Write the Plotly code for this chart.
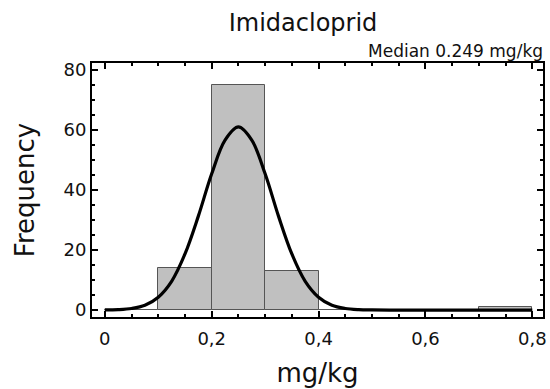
import plotly.graph_objects as go

# Histogram bins (mg/kg) and counts
bin_left = [0.0, 0.1, 0.2, 0.3, 0.4, 0.5, 0.6, 0.7]
bin_width = 0.1
counts = [0, 14, 75, 13, 0, 0, 0, 1]

# Fitted curve
curve_x = [0.0, 0.025, 0.05, 0.075, 0.1, 0.125, 0.15, 0.175, 0.2, 0.225, 0.25,
           0.275, 0.3, 0.325, 0.35, 0.375, 0.4, 0.425, 0.45, 0.475, 0.5,
           0.55, 0.6, 0.65, 0.7, 0.75, 0.8]
curve_y = [0.04, 0.15, 0.54, 1.6, 4.3, 9.6, 18.7, 31.3, 45.4, 56.6, 61.0,
           56.6, 45.4, 31.3, 18.7, 9.6, 4.3, 1.6, 0.54, 0.15, 0.04,
           0.0, 0.0, 0.0, 0.0, 0.0, 0.0]

title_text = "Imidacloprid"
median_text = "Median 0.249 mg/kg"
x_title = "mg/kg"
y_title = "Frequency"
x_tickvals = [0, 0.2, 0.4, 0.6, 0.8]
x_ticktext = ["0", "0,2", "0,4", "0,6", "0,8"]
y_tickvals = [0, 20, 40, 60, 80]

FONT = "DejaVu Sans"
TXT = "#111111"

fig = go.Figure()
fig.add_trace(go.Bar(
    x=[b + bin_width / 2 for b in bin_left], y=counts, width=bin_width,
    marker=dict(color="#c0c0c0", line=dict(color="#555555", width=1)),
    showlegend=False,
))
fig.add_trace(go.Scatter(
    x=curve_x, y=curve_y, mode="lines", line=dict(color="black", width=3.2, shape="spline"),
    showlegend=False,
))

axis_common = dict(
    showline=True, linecolor="black", linewidth=2, mirror="ticks",
    ticks="inside", ticklen=6, tickwidth=1.5, tickcolor="black",
    showgrid=False, zeroline=False, automargin=False,
    tickfont=dict(family=FONT, size=18, color=TXT),
)

fig.update_xaxes(
    range=[-0.024, 0.82], tickvals=x_tickvals, ticktext=x_ticktext,
    minor=dict(dtick=0.05, ticks="inside", ticklen=3, tickcolor="black", tickwidth=1.5),
    ticklabelstandoff=4,
    title=dict(text=x_title, font=dict(family=FONT, size=26, color=TXT), standoff=16),
    **axis_common,
)
fig.update_yaxes(
    range=[-2.3, 82.3], tickvals=y_tickvals,
    minor=dict(dtick=5, ticks="inside", ticklen=3, tickcolor="black", tickwidth=1.5),
    title=dict(text=y_title, font=dict(family=FONT, size=26, color=TXT), standoff=21),
    **axis_common,
)

fig.update_layout(
    width=550, height=389,
    margin=dict(l=92, r=7, t=63, b=72),
    paper_bgcolor="white", plot_bgcolor="white",
    bargap=0,
    title=dict(text=title_text, xref="container", x=0.551, xanchor="center",
               yref="container", y=0.943, yanchor="middle",
               font=dict(family=FONT, size=24, color=TXT)),
    annotations=[dict(text=median_text, xref="paper", yref="paper", x=1.005, y=1,
                      xanchor="right", yanchor="bottom", showarrow=False,
                      font=dict(family=FONT, size=17, color=TXT))],
)

fig.write_html("out.html")
